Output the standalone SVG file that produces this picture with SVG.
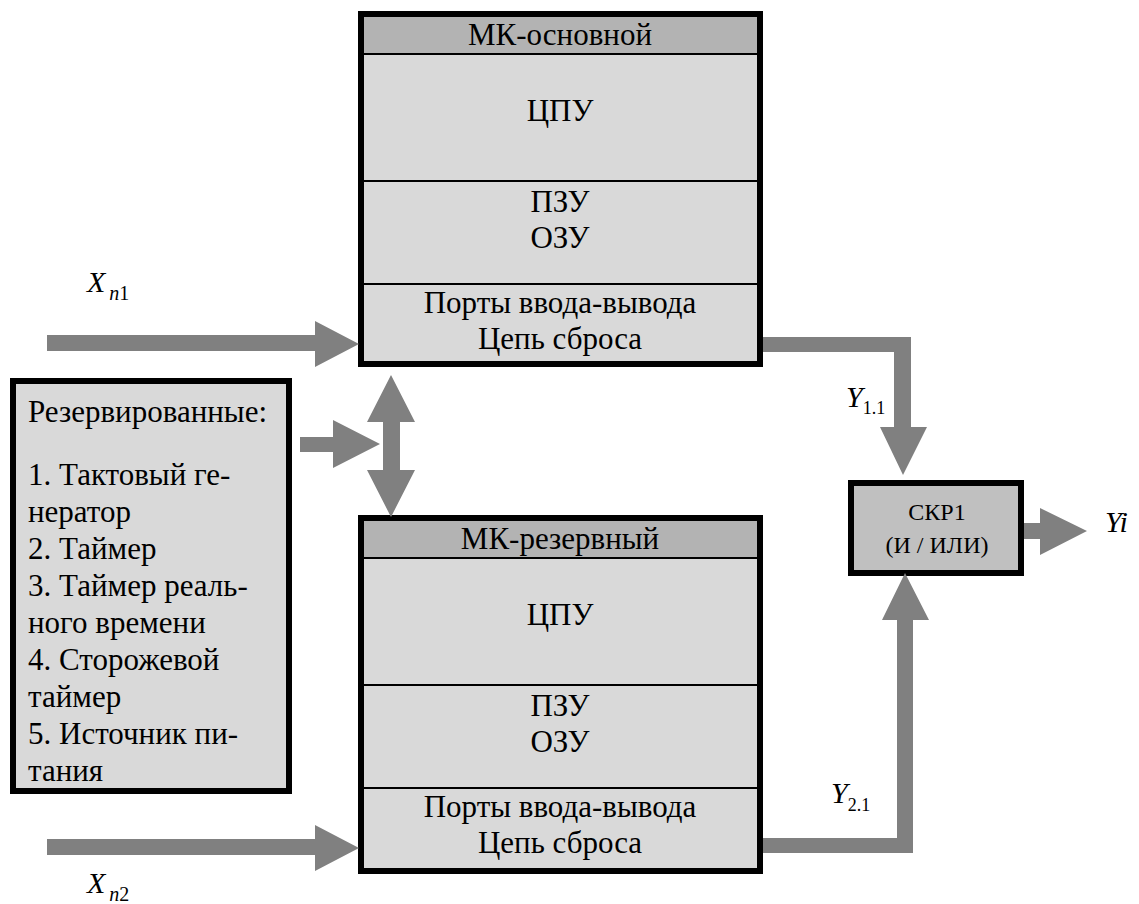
<svg xmlns="http://www.w3.org/2000/svg" width="1139" height="904" viewBox="0 0 1139 904" font-family="'Liberation Serif', 'Times New Roman', 'DejaVu Serif', serif">
<style>
text{font-family:"Liberation Serif","Times New Roman","DejaVu Serif",serif}
.t{font-size:31px;fill:#000}
.c{text-anchor:middle}
.i{font-style:italic}
.box{stroke:#000;stroke-width:6}
.sep{stroke:#000;stroke-width:2}
.arr{fill:#808080}
</style>
<rect width="1139" height="904" fill="#fff"/>
<g id="mk-main">
<rect x="361" y="14" width="399" height="350" fill="#d9d9d9"/>
<rect x="361" y="14" width="399" height="40" fill="#b3b3b3"/>
<line class="sep" x1="361" y1="54" x2="760" y2="54"/>
<line class="sep" x1="361" y1="181" x2="760" y2="181"/>
<line class="sep" x1="361" y1="284" x2="760" y2="284"/>
<rect class="box" x="361" y="14" width="399" height="350" fill="none"/>
<text class="t c" x="560" y="45">МК-основной</text>
<text class="t c" x="560" y="121">ЦПУ</text>
<text class="t c" x="560" y="212">ПЗУ</text>
<text class="t c" x="560" y="248">ОЗУ</text>
<text class="t c" x="560" y="313">Порты ввода-вывода</text>
<text class="t c" x="560" y="349">Цепь сброса</text>
</g>
<g id="mk-reserve">
<rect x="361" y="518" width="399" height="353" fill="#d9d9d9"/>
<rect x="361" y="518" width="399" height="40" fill="#b3b3b3"/>
<line class="sep" x1="361" y1="558" x2="760" y2="558"/>
<line class="sep" x1="361" y1="685" x2="760" y2="685"/>
<line class="sep" x1="361" y1="788" x2="760" y2="788"/>
<rect class="box" x="361" y="518" width="399" height="353" fill="none"/>
<text class="t c" x="560" y="549">МК-резервный</text>
<text class="t c" x="560" y="625">ЦПУ</text>
<text class="t c" x="560" y="716">ПЗУ</text>
<text class="t c" x="560" y="752">ОЗУ</text>
<text class="t c" x="560" y="817">Порты ввода-вывода</text>
<text class="t c" x="560" y="853">Цепь сброса</text>
</g>
<g id="reserved">
<rect class="box" x="13" y="381" width="276" height="410" fill="#d9d9d9"/>
<text class="t" x="28" y="422">Резервированные:</text>
<text class="t" x="28" y="485">1. Тактовый ге-</text>
<text class="t" x="28" y="522">нератор</text>
<text class="t" x="28" y="559">2. Таймер</text>
<text class="t" x="28" y="596">3. Таймер реаль-</text>
<text class="t" x="28" y="633">ного времени</text>
<text class="t" x="28" y="670">4. Сторожевой</text>
<text class="t" x="28" y="707">таймер</text>
<text class="t" x="28" y="744">5. Источник пи-</text>
<text class="t" x="28" y="781">тания</text>
</g>
<g id="skr1">
<rect class="box" x="851" y="483" width="170" height="90" fill="#c0c0c0"/>
<text class="t c" x="937" y="520" style="font-size:24px">СКР1</text>
<text class="t c" x="937" y="553" style="font-size:24px">(И / ИЛИ)</text>
</g>
<g id="connectors">
<polygon class="arr" points="47,335 315,335 315,321 359,344 315,367 315,351 47,351"/>
<polygon class="arr" points="47,839 315,839 315,825 359,848 315,871 315,855 47,855"/>
<polygon class="arr" points="300,437 333,437 333,420 380,444 333,468 333,452 300,452"/>
<polygon class="arr" points="391,375 415,422 400,422 400,470 415,470 391,517 367,470 383,470 383,422 367,422"/>
<polygon class="arr" points="763,337 911,337 911,427 927,427 903,475 880,427 894,427 894,352 763,352"/>
<polygon class="arr" points="763,838 897,838 897,620 882,620 905,573 929,620 913,620 913,853 763,853"/>
<polygon class="arr" points="1024,523 1040,523 1040,508 1087,531 1040,555 1040,539 1024,539"/>
</g>
<g id="labels">
<text class="t" x="87" y="292"><tspan class="i" style="font-size:30px">X</tspan><tspan class="i" style="font-size:20px" dx="4" dy="8">n</tspan><tspan style="font-size:20px">1</tspan></text>
<text class="t" x="87" y="893"><tspan class="i" style="font-size:30px">X</tspan><tspan class="i" style="font-size:20px" dx="4" dy="8">n</tspan><tspan style="font-size:20px">2</tspan></text>
<text class="t" x="846" y="407"><tspan class="i" style="font-size:30px">Y</tspan><tspan style="font-size:18px" dy="7">1.1</tspan></text>
<text class="t" x="831" y="803"><tspan class="i" style="font-size:30px">Y</tspan><tspan style="font-size:18px" dy="8">2.1</tspan></text>
<text class="t i" x="1105" y="532" style="font-size:30px">Yi</text>
</g>
</svg>
